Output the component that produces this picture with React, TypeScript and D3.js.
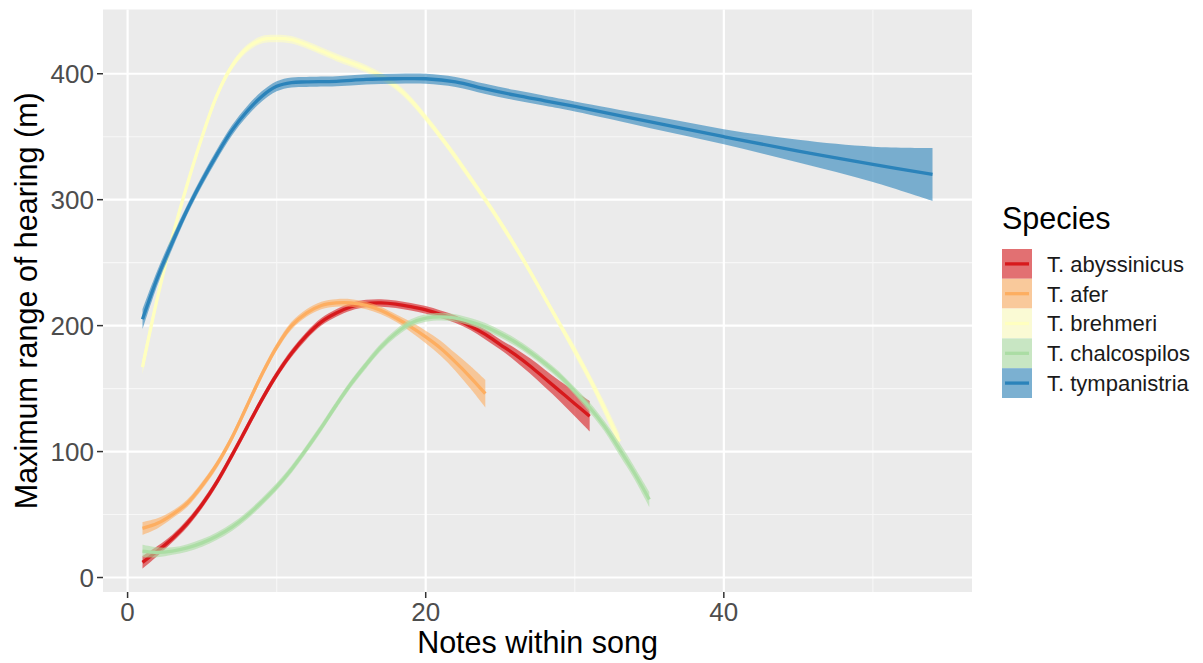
import React from 'react'
import * as d3 from 'd3'

// loess fits: notes within song -> max range of hearing (m), with ribbon half-width
const SPECIES = ['T. abyssinicus', 'T. afer', 'T. brehmeri', 'T. chalcospilos', 'T. tympanistria']
const COLORS = ['#D7191C', '#FDAE61', '#FFFFBF', '#ABDDA4', '#2B83BA']

const abyssinicusX = [1, 2, 3, 4, 5, 6, 7, 8, 9, 10, 11, 12, 13, 14, 15, 16, 17, 18, 19, 20, 21, 22, 23, 24, 25, 26, 27, 28, 29, 30, 31]
const abyssinicusY = [12, 21, 31, 43, 58, 76, 97, 119, 141, 161, 178, 192, 203, 210, 215, 217.5, 218, 217, 215, 212.5, 209, 205, 199.5, 193, 185, 177, 168, 158, 148, 138, 128]
const abyssinicusSe = [5, 4, 3, 3, 3, 3, 3, 3, 3, 3, 3, 3, 3, 3, 3, 3, 3, 3, 3, 3, 3, 3, 3, 4, 4, 5, 6, 7, 8, 10, 12]

const aferX = [1, 2, 3, 4, 5, 6, 7, 8, 9, 10, 11, 12, 13, 14, 15, 16, 17, 18, 19, 20, 21, 22, 23, 24]
const aferY = [39, 43, 50, 59, 73, 90, 111, 136, 161, 183, 200, 210, 216, 218, 218, 216, 212, 206, 199, 191, 182, 171, 159, 146]
const aferSe = [5, 4, 3, 3, 3, 3, 3, 3, 3, 3, 3, 3, 3, 3, 3, 3, 3, 3, 4, 5, 6, 7, 9, 11]

const brehmeriX = [1, 2, 3, 4, 5, 6, 7, 8, 9, 10, 11, 12, 13, 14, 16, 17, 18, 19, 20, 21, 22, 23, 24, 25, 26, 27, 28, 29, 30, 31, 32, 33]
const brehmeriY = [167, 222, 270, 312, 350, 383, 406, 420, 427, 428, 427, 423, 418, 413, 404, 398, 390, 379, 365, 350, 334, 317, 300, 282, 263, 243, 222, 201, 180, 158, 134, 108]
const brehmeriSe = [6, 4, 3, 3, 3, 3, 3, 3, 3, 3, 3, 3, 3, 3, 3, 3, 3, 3, 3, 3, 3, 3, 3, 3, 3, 3, 3, 3, 4, 4, 5, 6]

const chalcospilosX = [1, 2, 3, 4, 5, 6, 7, 8, 9, 10, 11, 12, 13, 14, 15, 16, 17, 18, 19, 20, 21, 22, 23, 24, 25, 26, 27, 28, 29, 30, 31, 32, 33, 34, 35]
const chalcospilosY = [21, 20, 21, 23.5, 27.5, 33, 40, 49, 60, 72, 86, 102, 119, 137, 154, 169, 183, 194, 202, 206, 207, 206, 203, 199, 193.5, 187, 179, 170, 160, 148, 135, 120, 102, 83, 62]
const chalcospilosSe = [5, 4, 3, 3, 3, 3, 3, 3, 3, 3, 3, 3, 3, 3, 3, 3, 3, 3, 3, 3, 3, 3, 3, 3, 3, 3, 3, 3, 3, 3, 4, 4, 5, 5, 6]

const tympanistriaX = [1, 2, 3, 4, 5, 6, 7, 8, 9, 10, 11, 12, 14, 16, 18, 20, 22, 24, 26, 28, 30, 35, 40, 45, 50, 54]
const tympanistriaY = [205, 238, 266, 292, 315, 336, 355, 370, 382, 390, 393, 393.5, 394, 395.5, 396, 396, 393.5, 388, 383, 378.5, 374, 362, 350, 338.5, 328, 320]
const tympanistriaSe = [8, 6, 5, 4, 4, 4, 4, 4, 4, 4, 4, 4, 4, 4, 4, 4, 4, 4, 4, 4, 4, 5, 6, 9, 14, 21]

const SERIES_X = [abyssinicusX, aferX, brehmeriX, chalcospilosX, tympanistriaX]
const SERIES_Y = [abyssinicusY, aferY, brehmeriY, chalcospilosY, tympanistriaY]
const SERIES_SE = [abyssinicusSe, aferSe, brehmeriSe, chalcospilosSe, tympanistriaSe]

const X_TICKS = [0, 20, 40]
const X_MINOR = [10, 30, 50]
const Y_TICKS = [0, 100, 200, 300, 400]
const Y_MINOR = [50, 150, 250, 350]

const W = 1203
const H = 663
const FONT = '"Liberation Sans", Arial, Helvetica, sans-serif'

export default function App() {
  const panel = { left: 103, right: 972, top: 9.5, bottom: 592 }
  const x = d3.scaleLinear().domain([-1.65, 56.65]).range([panel.left, panel.right])
  const y = d3.scaleLinear().domain([-11.5, 451]).range([panel.bottom, panel.top])

  const line = d3.line<[number, number]>()
    .x((d) => x(d[0]))
    .y((d) => y(d[1]))
    .curve(d3.curveCatmullRom)
  const area = d3.area<[number, number, number]>()
    .x((d) => x(d[0]))
    .y0((d) => y(d[1] - d[2]))
    .y1((d) => y(d[1] + d[2]))
    .curve(d3.curveCatmullRom)

  const legendX = 1002
  const legendTop = 249
  const keyH = 29.8

  return (
    <div style={{ position: 'absolute', left: 0, top: 0 }}>
      <svg width={W} height={H} style={{ display: 'block', background: '#fff' }}>
        <rect x={panel.left} y={panel.top} width={panel.right - panel.left} height={panel.bottom - panel.top} fill="#EBEBEB" />

        {/* minor grid */}
        {X_MINOR.map((v) => (
          <line key={'xm' + v} x1={x(v)} x2={x(v)} y1={panel.top} y2={panel.bottom} stroke="#F7F7F7" strokeWidth={1.1} />
        ))}
        {Y_MINOR.map((v) => (
          <line key={'ym' + v} x1={panel.left} x2={panel.right} y1={y(v)} y2={y(v)} stroke="#F7F7F7" strokeWidth={1.1} />
        ))}
        {/* major grid */}
        {X_TICKS.map((v) => (
          <line key={'xg' + v} x1={x(v)} x2={x(v)} y1={panel.top} y2={panel.bottom} stroke="#fff" strokeWidth={2.2} />
        ))}
        {Y_TICKS.map((v) => (
          <line key={'yg' + v} x1={panel.left} x2={panel.right} y1={y(v)} y2={y(v)} stroke="#fff" strokeWidth={2.2} />
        ))}

        {/* smooths: ribbon then line, per species */}
        {SPECIES.map((name, i) => {
          const xs = SERIES_X[i]
          const pts: [number, number][] = xs.map((v, j) => [v, SERIES_Y[i][j]])
          const band: [number, number, number][] = xs.map((v, j) => [v, SERIES_Y[i][j], SERIES_SE[i][j]])
          return (
            <g key={name}>
              <path d={area(band) || ''} fill={COLORS[i]} fillOpacity={0.6} />
              <path d={line(pts) || ''} fill="none" stroke={COLORS[i]} strokeWidth={3.3} />
            </g>
          )
        })}

        {/* axes ticks and labels */}
        {Y_TICKS.map((v) => (
          <g key={'yt' + v}>
            <line x1={panel.left - 6} x2={panel.left} y1={y(v)} y2={y(v)} stroke="#333" strokeWidth={1.5} />
            <text x={panel.left - 9} y={y(v)} dy="0.36em" textAnchor="end" fontFamily={FONT} fontSize={26} fill="#4D4D4D">{v}</text>
          </g>
        ))}
        {X_TICKS.map((v) => (
          <g key={'xt' + v}>
            <line x1={x(v)} x2={x(v)} y1={panel.bottom} y2={panel.bottom + 6} stroke="#333" strokeWidth={1.5} />
            <text x={x(v)} y={621} textAnchor="middle" fontFamily={FONT} fontSize={26} fill="#4D4D4D">{v}</text>
          </g>
        ))}

        <text x={(panel.left + panel.right) / 2} y={653} textAnchor="middle" fontFamily={FONT} fontSize={30.5} fill="#000">Notes within song</text>
        <text transform={`translate(37,${(panel.top + panel.bottom) / 2}) rotate(-90)`} textAnchor="middle" fontFamily={FONT} fontSize={30.5} fill="#000">Maximum range of hearing (m)</text>

        {/* legend */}
        <text x={legendX} y={229} fontFamily={FONT} fontSize={30.5} fill="#000">Species</text>
        {SPECIES.map((name, i) => {
          const ky = legendTop + i * keyH
          return (
            <g key={'lg' + name}>
              <rect x={legendX} y={ky} width={30} height={keyH} fill="#F2F2F2" />
              <rect x={legendX} y={ky} width={30} height={keyH} fill={COLORS[i]} fillOpacity={0.6} />
              <line x1={legendX + 3} x2={legendX + 27} y1={ky + keyH / 2} y2={ky + keyH / 2} stroke={COLORS[i]} strokeWidth={3.3} />
              <text x={1047} y={ky + keyH / 2} dy="0.36em" fontFamily={FONT} fontSize={22} fill="#1A1A1A">{name}</text>
            </g>
          )
        })}
      </svg>
    </div>
  )
}
